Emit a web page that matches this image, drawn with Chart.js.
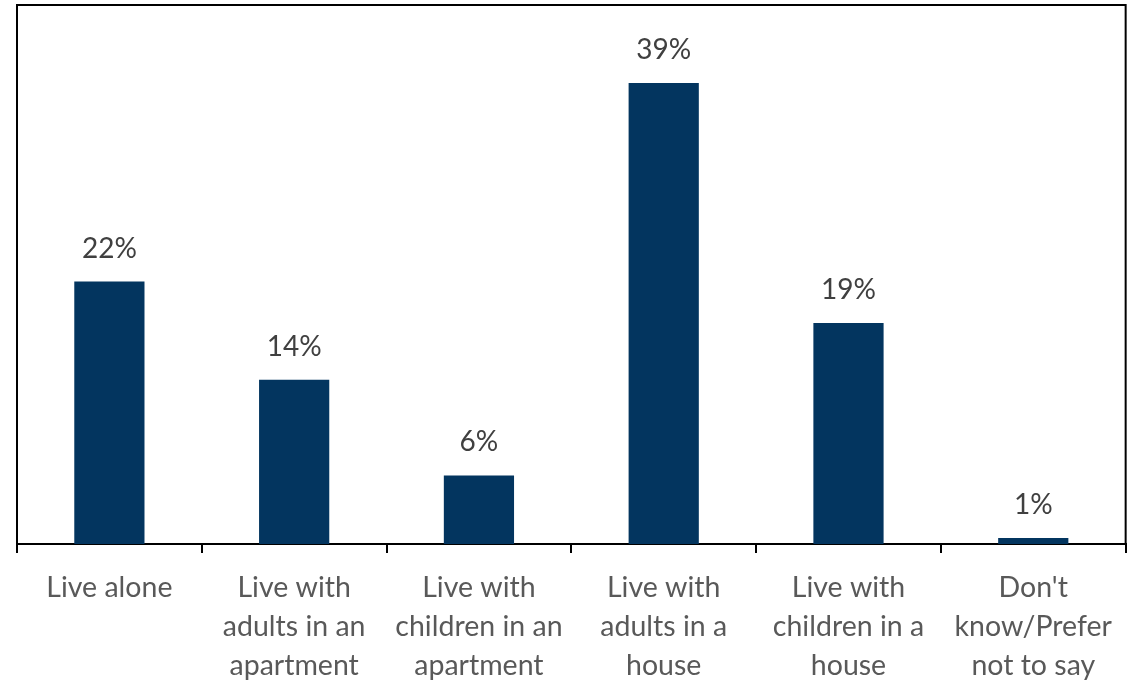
<!DOCTYPE html>
<html lang="en">
  <head>
    <meta charset="UTF-8" />
    <title>Living situation</title>
    <style>
      html, body { margin: 0; padding: 0; background: #fff; }
      #wrap { width: 1127px; height: 688px; }
    </style>
  </head>
  <body>
    <div id="wrap"><canvas id="myChart"></canvas></div>

    <script src="https://cdn.jsdelivr.net/npm/chart.js"></script>
    <script>
      const categories = [
        ['Live alone'],
        ['Live with', 'adults in an', 'apartment'],
        ['Live with', 'children in an', 'apartment'],
        ['Live with', 'adults in a', 'house'],
        ['Live with', 'children in a', 'house'],
        ["Don't", 'know/Prefer', 'not to say']
      ];
      const shares = [22.2, 13.9, 5.8, 39, 18.7, 0.5];
      const shareLabels = ['22%', '14%', '6%', '39%', '19%', '1%'];

      const fontFamily = 'Lato, "Open Sans", sans-serif';

      // frame round the plot area (the x axis line is the bottom edge)
      const frame = {
        id: 'frame',
        afterDraw(chart) {
          const { ctx, chartArea: a } = chart;
          ctx.save();
          ctx.strokeStyle = '#000';
          ctx.lineWidth = 2;
          ctx.beginPath();
          ctx.moveTo(a.left, a.bottom);
          ctx.lineTo(a.left, a.top);
          ctx.lineTo(a.right, a.top);
          ctx.lineTo(a.right, a.bottom);
          ctx.stroke();
          ctx.restore();
        }
      };

      // percent labels above each bar
      const valueLabels = {
        id: 'valueLabels',
        afterDatasetsDraw(chart) {
          const { ctx } = chart;
          const meta = chart.getDatasetMeta(0);
          ctx.save();
          ctx.fillStyle = '#404040';
          ctx.font = '28px ' + fontFamily;
          ctx.textAlign = 'center';
          ctx.textBaseline = 'middle';
          meta.data.forEach((bar, i) => {
            ctx.fillText(shareLabels[i], bar.x, bar.y - 33);
          });
          ctx.restore();
        }
      };

      new Chart(document.getElementById('myChart'), {
        type: 'bar',
        data: {
          labels: categories,
          datasets: [{
            data: shares,
            backgroundColor: '#03355f',
            categoryPercentage: 1,
            barPercentage: 0.38
          }]
        },
        options: {
          responsive: true,
          maintainAspectRatio: false,
          animation: false,
          layout: { padding: { left: 17, top: 5, right: 1, bottom: 0 } },
          plugins: { legend: { display: false }, tooltip: { enabled: false } },
          scales: {
            y: { display: false, min: 0, max: 45.6 },
            x: {
              afterFit(axis) { axis.height = 144; },
              border: { color: '#000', width: 2 },
              grid: {
                offset: true,
                drawOnChartArea: false,
                color: '#000',
                lineWidth: 2,
                tickLength: 9
              },
              ticks: {
                color: '#595959',
                padding: 15,
                maxRotation: 0,
                font: { family: fontFamily, size: 28.5, lineHeight: '39px' }
              }
            }
          }
        },
        plugins: [frame, valueLabels]
      });
    </script>
  </body>
</html>
